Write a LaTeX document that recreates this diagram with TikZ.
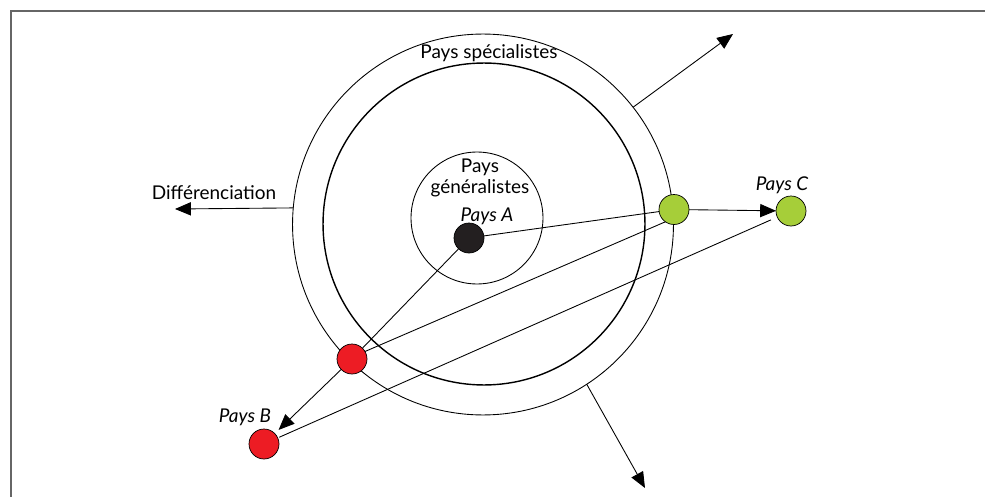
\documentclass[tikz,border=0pt]{standalone}
\usepackage{fontspec}
\setmainfont{Lato}
\usetikzlibrary{arrows.meta,positioning}
\definecolor{dotgreen}{HTML}{A6CE39}
\definecolor{dotred}{HTML}{ED1C24}
\definecolor{dotblack}{HTML}{231F20}
\definecolor{framegray}{HTML}{666666}

\begin{document}
\begin{tikzpicture}[x=0.02cm,y=-0.02cm,
  txt/.style={font=\fontsize{10.8}{11.5}\selectfont},
  lbl/.style={font=\fontsize{10.8}{11.5}\selectfont\itshape},
  ring/.style={draw,circle,inner sep=0pt,outer sep=0pt,line width=0.5pt},
  dot/.style={draw,circle,inner sep=0pt,outer sep=0pt,minimum size=0.6cm,line width=0.4pt},
  link/.style={line width=0.5pt},
  arr/.style={line width=0.5pt,-{Triangle[length=9pt,width=7.5pt]}}]
\useasboundingbox (0,0) rectangle (985,497);
\draw[framegray,line width=1.1pt] (11,497) -- (11,11) -- (985,11);

\node[ring,minimum size=7.62cm] (outer) at (483,224.5) {};
\node[ring,minimum size=6.44cm,line width=0.8pt] (inner) at (484,224) {};
\node[ring,minimum size=2.64cm] (core) at (477,218) {};

\node[txt] (spec) at (489,53) {Pays spécialistes};
\node[txt,align=center] (gen) at (480,178) {Pays\\généralistes};
\node[txt] (diff) at (214,193) {Différenciation};

\node[dot,fill=dotblack] (A) at (469,238) {};
\node[dot,fill=dotgreen] (G) at (674,209.5) {};
\node[dot,fill=dotgreen] (C) at (791,211) {};
\node[dot,fill=dotred] (R) at (352,359) {};
\node[dot,fill=dotred] (B) at (264,444) {};

\node[lbl] (labA) at (487,216) {Pays A};
\node[lbl] (labC) at (782,185) {Pays C};
\node[lbl] (labB) at (245,417) {Pays B};

\coordinate (ne) at (733,34);
\coordinate (se) at (645,488);
\coordinate (w) at (175,209);

\draw[link] (A) -- (G);
\draw[link] (R.30) -- (G.235);
\draw[link] (A) -- (R);
\draw[link,shorten <=1pt,shorten >=4pt] (B) -- (C);
\draw[arr] (G) -- (C);
\draw[arr,shorten >=3pt] (R) -- (B);
\draw[arr] (outer.38) -- (ne);
\draw[arr] (outer.-57) -- (se);
\draw[arr] (outer.175) -- (w);
\end{tikzpicture}
\end{document}
